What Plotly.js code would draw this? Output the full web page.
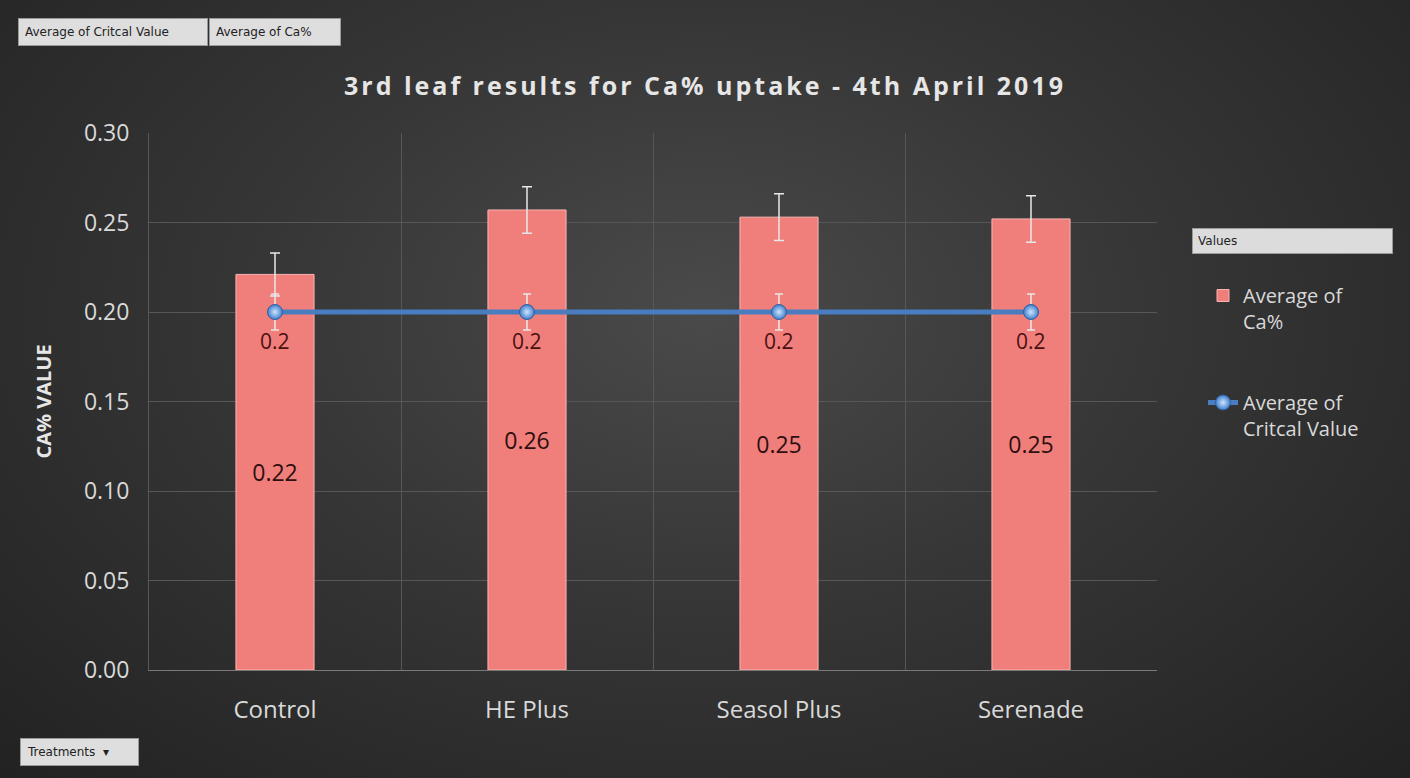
<!DOCTYPE html>
<html>
<head>
<meta charset="utf-8">
<script src="https://cdn.plot.ly/plotly-3.0.1.min.js"></script>
<style>
  html, body { margin:0; padding:0; }
  body { width:1410px; height:778px; background: radial-gradient(ellipse at 50% 40%, #4a4a4a 0%, #363636 45%, #222222 100%); }
  #chart { width:1410px; height:778px; }
  .gtitle { letter-spacing: 3px; }
</style>
</head>
<body>
<div id="chart"></div>
<script>
const treatments = ["Control", "HE Plus", "Seasol Plus", "Serenade"];
const avgCa = [0.221, 0.257, 0.253, 0.252];
const avgCaErr = [0.012, 0.013, 0.013, 0.013];
const avgCaLabels = ["0.22", "0.26", "0.25", "0.25"];
const criticalValue = [0.2, 0.2, 0.2, 0.2];
const criticalErr = [0.01, 0.01, 0.01, 0.01];
const criticalLabels = ["0.2", "0.2", "0.2", "0.2"];
const yTicks = [0, 0.05, 0.10, 0.15, 0.20, 0.25, 0.30];

const FONT = "Open Sans, Noto Sans, sans-serif";
const BTN_FONT = { family: "DejaVu Sans, sans-serif", size: 12, color: "#222" };

// pixel helpers for the decorative buttons (plot area: 149..1157 x, 133..670 y)
const px = v => (v - 149) / 1008;
const py = v => (670 - v) / 537;

const barTrace = {
  type: "bar",
  name: "Average of<br>Ca%",
  x: treatments,
  y: avgCa,
  width: 0.31,
  text: avgCaLabels,
  textposition: "inside",
  insidetextanchor: "middle",
  textangle: 0,
  textfont: { family: FONT, size: 23, color: "#2e0f0f" },
  marker: { color: "#f07f7c", line: { color: "#f9b4b0", width: 1 } },
  error_y: { type: "data", array: avgCaErr, visible: true, color: "#e8e8e8", thickness: 1.5, width: 5 },
  legendgroup: "a"
};

const lineTrace = {
  type: "scatter",
  mode: "lines+markers",
  name: "Average of<br>Critcal Value",
  x: treatments,
  y: criticalValue,
  line: { color: "#4a7cc0", width: 5 },
  marker: { size: 15, color: "#3f7fd0", gradient: { type: "radial", color: "#cfe4fa" }, line: { color: "#2f5f9f", width: 1 } },
  error_y: { type: "data", array: criticalErr, visible: true, color: "#e8e8e8", thickness: 1.5, width: 4 },
  legendgroup: "b"
};

const lineLabels = treatments.map((t, i) => ({
  x: t, y: criticalValue[i], xref: "x", yref: "y",
  text: criticalLabels[i], showarrow: false, yshift: -29,
  font: { family: FONT, size: 21, color: "#4a1010" }
}));

const layout = {
  width: 1410,
  height: 778,
  paper_bgcolor: "rgba(0,0,0,0)",
  plot_bgcolor: "rgba(0,0,0,0)",
  margin: { l: 149, r: 253, t: 133, b: 108 },
  font: { family: FONT, color: "#d9d9d9" },
  title: {
    text: "<b>3rd leaf results for Ca% uptake - 4th April 2019</b>",
    font: { family: FONT, size: 25, color: "#e6e6e6" },
    x: 0.5, xref: "container", xanchor: "center", y: 0.889, yanchor: "middle"
  },
  xaxis: {
    type: "category",
    tickson: "boundaries",
    showgrid: true,
    gridcolor: "#575757",
    gridwidth: 1,
    ticks: "",
    showline: true,
    linecolor: "#7a7a7a",
    tickfont: { family: FONT, size: 24, color: "#d9d9d9" },
    ticklabelstandoff: 18,
    zeroline: false
  },
  yaxis: {
    range: [0, 0.30],
    tickvals: yTicks,
    tickformat: ".2f",
    showgrid: true,
    gridcolor: "#575757",
    gridwidth: 1,
    zeroline: false,
    showline: true,
    linecolor: "#575757",
    ticks: "",
    tickfont: { family: FONT, size: 23, color: "#d9d9d9" },
    ticklabelstandoff: 14,
    title: { text: "<b>CA% VALUE</b>", font: { family: FONT, size: 20, color: "#e6e6e6" }, standoff: 26 }
  },
  showlegend: true,
  legend: {
    x: px(1203), xanchor: "left",
    y: py(276), yanchor: "top",
    font: { family: FONT, size: 20, color: "#d9d9d9" },
    bgcolor: "rgba(0,0,0,0)",
    tracegroupgap: 52,
    traceorder: "grouped",
    valign: "top"
  },
  annotations: lineLabels.concat([
    { text: "Average of Critcal Value", xref: "paper", yref: "paper", x: px(18), y: py(32), xanchor: "left", yanchor: "middle",
      showarrow: false, font: BTN_FONT, bgcolor: "#dedede", bordercolor: "#9a9a9a", borderwidth: 1, borderpad: 6,
      width: 176, align: "left" },
    { text: "Average of Ca%", xref: "paper", yref: "paper", x: px(209), y: py(32), xanchor: "left", yanchor: "middle",
      showarrow: false, font: BTN_FONT, bgcolor: "#dedede", bordercolor: "#9a9a9a", borderwidth: 1, borderpad: 6,
      width: 118, align: "left" },
    { text: "Treatments  \u25BE", xref: "paper", yref: "paper", x: px(20), y: py(752), xanchor: "left", yanchor: "middle",
      showarrow: false, font: BTN_FONT, bgcolor: "#dedede", bordercolor: "#9a9a9a", borderwidth: 1, borderpad: 6,
      width: 105, align: "left" },
    { text: "Values", xref: "paper", yref: "paper", x: px(1192), y: py(241), xanchor: "left", yanchor: "middle",
      showarrow: false, font: BTN_FONT, bgcolor: "#dcdcdc", bordercolor: "#9a9a9a", borderwidth: 1, borderpad: 5,
      width: 189, align: "left" }
  ])
};

Plotly.newPlot("chart", [barTrace, lineTrace], layout, { displayModeBar: false, responsive: false });
</script>
</body>
</html>
